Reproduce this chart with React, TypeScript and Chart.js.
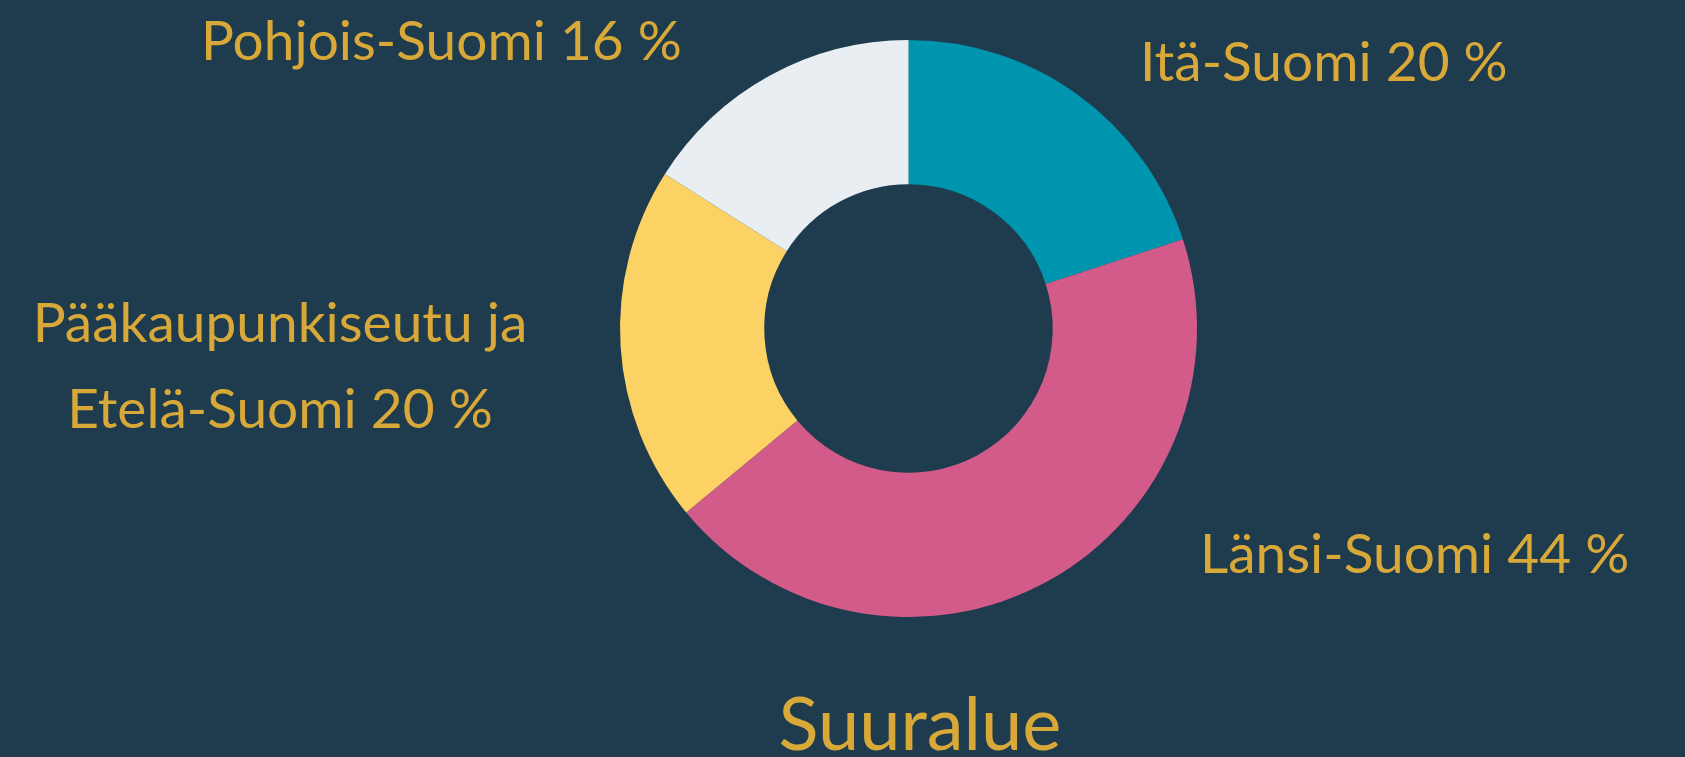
import React, { useEffect, useRef } from "react";
import { Chart, registerables } from "chart.js";

Chart.register(...registerables);

const categories = ["Itä-Suomi", "Länsi-Suomi", "Pääkaupunkiseutu ja Etelä-Suomi", "Pohjois-Suomi"];
const shares = [20, 44, 20, 16];
const sliceColors = ["#0095AF", "#D35B89", "#FBD263", "#E9EEF2"];
const chartTitle = "Suuralue";

const BG = "#1F3C4E";
const GOLD = "#D8A938";
const FONT = "Lato, 'Open Sans', sans-serif";

// label layout: anchor x, first baseline y, alignment, line builder
const labelLayout = [
  { x: 1140, y: 81, align: "left", lines: (l: string, v: number) => [`${l} ${v} %`] },
  { x: 1200, y: 573, align: "left", lines: (l: string, v: number) => [`${l} ${v} %`] },
  { x: 280, y: 342, align: "center", lines: (_l: string, v: number) => ["Pääkaupunkiseutu ja", `Etelä-Suomi ${v} %`] },
  { x: 201, y: 60, align: "left", lines: (l: string, v: number) => [`${l} ${v} %`] },
];

const labelPlugin = {
  id: "sliceLabels",
  afterDraw(chart: any) {
    const ctx = chart.ctx;
    ctx.save();
    ctx.fillStyle = GOLD;
    ctx.textBaseline = "alphabetic";
    ctx.font = `55px ${FONT}`;
    const labels = chart.data.labels as string[];
    const values = chart.data.datasets[0].data as number[];
    labels.forEach((lab, i) => {
      const L = labelLayout[i];
      ctx.textAlign = L.align;
      L.lines(lab, values[i]).forEach((t, k) => {
        ctx.fillText(t, L.x, L.y + k * 86);
      });
    });
    ctx.font = `74px ${FONT}`;
    ctx.textAlign = "center";
    ctx.fillText(chartTitle, 920, 750);
    ctx.restore();
  },
};

export default function App() {
  const ref = useRef<HTMLCanvasElement | null>(null);
  useEffect(() => {
    if (!ref.current) return;
    const chart = new Chart(ref.current, {
      type: "doughnut",
      data: {
        labels: categories,
        datasets: [
          {
            data: shares,
            backgroundColor: sliceColors,
            borderWidth: 0,
          },
        ],
      },
      options: {
        animation: false,
        responsive: false,
        cutout: "50%",
        layout: { padding: { left: 620, right: 488, top: 40, bottom: 140 } },
        plugins: {
          legend: { display: false },
          tooltip: { enabled: false },
          title: { display: false },
        },
      },
      plugins: [labelPlugin],
    });
    return () => chart.destroy();
  }, []);
  return (
    <div style={{ position: "fixed", left: 0, top: 0, width: 1685, height: 757, background: BG }}>
      <canvas ref={ref} width={1685} height={757} style={{ display: "block", width: 1685, height: 757 }} />
    </div>
  );
}
